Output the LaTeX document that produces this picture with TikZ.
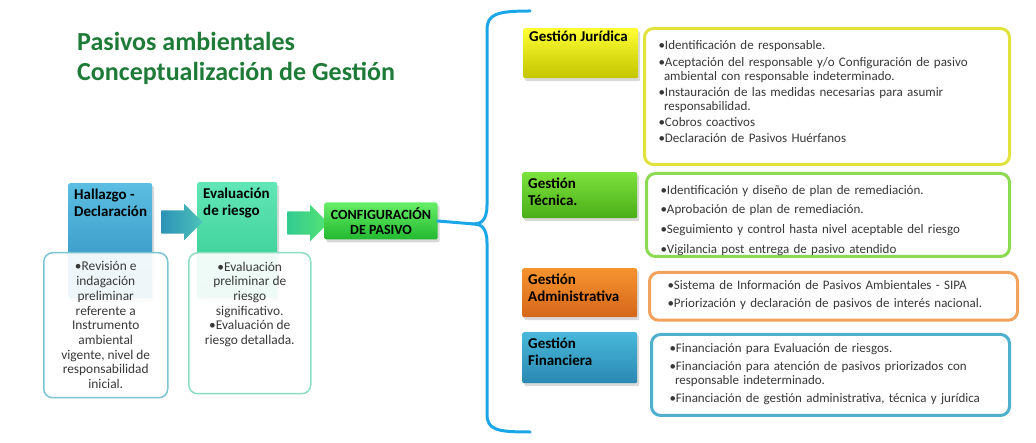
\documentclass[tikz,border=0pt]{standalone}
\usepackage{fontspec}
\setmainfont{Carlito}
\usepackage{tikz}
\usetikzlibrary{shapes.arrows,shadows}

\definecolor{ttlgreen}{HTML}{1E7B37}
\definecolor{brcblue}{HTML}{1BA6E8}
\definecolor{txtgray}{HTML}{383838}
\definecolor{jurtop}{HTML}{FFFF33}
\definecolor{jurbot}{HTML}{C4C400}
\definecolor{jurline}{HTML}{E2E23C}
\definecolor{tectop}{HTML}{7CE23C}
\definecolor{tecbot}{HTML}{4AAE18}
\definecolor{tecline}{HTML}{8CDA52}
\definecolor{admtop}{HTML}{F6942F}
\definecolor{admbot}{HTML}{D5661A}
\definecolor{admline}{HTML}{F2A25C}
\definecolor{fintop}{HTML}{48B8DA}
\definecolor{finbot}{HTML}{2A88B2}
\definecolor{finline}{HTML}{4EB0CC}
\definecolor{haltop}{HTML}{5CBEE2}
\definecolor{halbot}{HTML}{2C8CBC}
\definecolor{halline}{HTML}{7CC4D2}
\definecolor{evatop}{HTML}{62E6B6}
\definecolor{evabot}{HTML}{2EC88E}
\definecolor{evaline}{HTML}{8EDEC2}
\definecolor{cfgtop}{HTML}{66EE66}
\definecolor{cfgbot}{HTML}{22B830}

\newcommand{\itm}[1]{\par\hangindent=5.5pt\hangafter=1\noindent\textbullet#1}
\newcommand{\toptxt}[3]{\parbox[c][#1][t]{#2}{\raggedright #3}}

\begin{document}
\begin{tikzpicture}[x=1pt,y=-1pt,
  hdr/.style={anchor=north west, inner sep=6pt, rounded corners=2pt,
    font=\bfseries\fontsize{15}{17}\selectfont,
    drop shadow={opacity=0.3,shadow xshift=2pt,shadow yshift=-3pt}},
  cnt/.style={anchor=north west, draw, line width=3pt, rounded corners=9pt,
    fill=white, inner xsep=14pt, inner ysep=0pt, text=txtgray,
    font=\fontsize{13}{14.3}\selectfont\setlength{\parskip}{#1}},
  wbox/.style={anchor=north west, draw, line width=1.5pt, rounded corners=9pt,
    fill=white, fill opacity=0.92, text opacity=1, inner sep=0pt, text=txtgray,
    align=center, font=\fontsize{13.4}{14.7}\selectfont},
  blk/.style={single arrow, single arrow head extend=6.5pt, inner ysep=11.5pt,
    inner xsep=0pt, minimum height=41pt},
  brc/.style={draw=brcblue, line width=3pt, line cap=round}]
\useasboundingbox (0,0) rectangle (1036,443);

% titulo
\node[anchor=north west, inner sep=0pt, align=left, text=ttlgreen,
  font=\bfseries\fontsize{26}{30}\selectfont] (title) at (77,32)
  {Pasivos ambientales\\Conceptualización de Gestión};

% flujo de la izquierda
\node[hdr, top color=haltop, bottom color=halbot] (hal) at (68,183)
  {\toptxt{103pt}{72pt}{Hallazgo -\\Declaración}};
\node[hdr, top color=evatop, bottom color=evabot] (eva) at (197,182)
  {\toptxt{104pt}{68pt}{Evaluación\\de riesgo}};
\node[wbox, draw=halline, minimum width=124pt, minimum height=145pt] (halbox) at (43,252)
  {\parbox[c][145pt][t]{124pt}{\centering\vspace{9pt}
   \textbullet Revisión e\\indagación\\preliminar\\referente a\\Instrumento\\ambiental\\vigente, nivel de\\responsabilidad\\inicial.}};
\node[wbox, draw=evaline, minimum width=122pt, minimum height=141pt] (evabox) at (188,252)
  {\parbox[c][141pt][t]{122pt}{\centering\vspace{9pt}
   \textbullet Evaluación\\preliminar de\\riesgo\\significativo.\\\textbullet Evaluación de\\riesgo detallada.}};
\node[blk, left color=halbot!90!evabot, right color=halbot!40!evatop] (arr1) at (176,222) {};
\node[blk, left color=evabot!90!evatop, right color=cfgtop!70!evabot] (arr2) at (302,223) {};
\node[rounded corners=2pt, minimum width=113pt, minimum height=37pt, inner sep=0pt,
  top color=cfgtop, bottom color=cfgbot, align=center,
  font=\bfseries\fontsize{14}{15}\selectfont,
  drop shadow={opacity=0.3,shadow xshift=2pt,shadow yshift=-3pt}] (cfg) at (381,221)
  {CONFIGURACIÓN\\DE PASIVO};

% llave
\coordinate (tip) at (474,224);
\draw[brc] (cfg.east) -- (tip);
\draw[brc] (530,11) .. controls (497,11) and (487,14) .. (487,30) -- (487,205)
  .. controls (487,220) and (481,224) .. (tip)
  .. controls (481,224) and (487,228) .. (487,243) -- (487,414)
  .. controls (487,430) and (497,432) .. (530,432);

% gestiones
\node[hdr, top color=jurtop, bottom color=jurbot] (jur) at (523,28)
  {\toptxt{38pt}{103pt}{\vspace*{-3pt}Gestión Jurídica}};
\node[hdr, top color=tectop, bottom color=tecbot] (tec) at (522,172)
  {\toptxt{34pt}{103pt}{Gestión\\Técnica.}};
\node[hdr, top color=admtop, bottom color=admbot] (adm) at (522,268)
  {\toptxt{37pt}{103pt}{Gestión\\Administrativa}};
\node[hdr, top color=fintop, bottom color=finbot] (fin) at (522,332)
  {\toptxt{39pt}{103pt}{Gestión\\Financiera}};

\node[cnt=1.8pt, draw=jurline, text width=337pt, minimum height=136pt] (jurtxt) at (643,27)
  {\itm{Identificación de responsable.}
   \itm{Aceptación del responsable y/o Configuración de pasivo\newline ambiental con responsable indeterminado.}
   \itm{Instauración de las medidas necesarias para asumir\newline responsabilidad.}
   \itm{Cobros coactivos}
   \itm{Declaración de Pasivos Huérfanos}\par\vspace{16pt}};
\node[cnt=5.5pt, draw=tecline, text width=335pt, minimum height=83pt] (tectxt) at (645,172)
  {\itm{Identificación y diseño de plan de remediación.}
   \itm{Aprobación de plan de remediación.}
   \itm{Seguimiento y control hasta nivel aceptable del riesgo}
   \itm{Vigilancia post entrega de pasivo atendido}};
\node[cnt=3pt, draw=admline, text width=332pt, minimum height=46pt, inner xsep=18pt] (admtxt) at (648,271)
  {\itm{Sistema de Información de Pasivos Ambientales - SIPA}
   \itm{Priorización y declaración de pasivos de interés nacional.}\par\vspace{11pt}};
\node[cnt=3.5pt, draw=finline, text width=322pt, minimum height=80pt, inner xsep=18pt] (fintxt) at (650,333)
  {\itm{Financiación para Evaluación de riesgos.}
   \itm{Financiación para atención de pasivos priorizados con\newline responsable indeterminado.}
   \itm{Financiación de gestión administrativa, técnica y jurídica}\par\vspace{11pt}};
\end{tikzpicture}
\end{document}
